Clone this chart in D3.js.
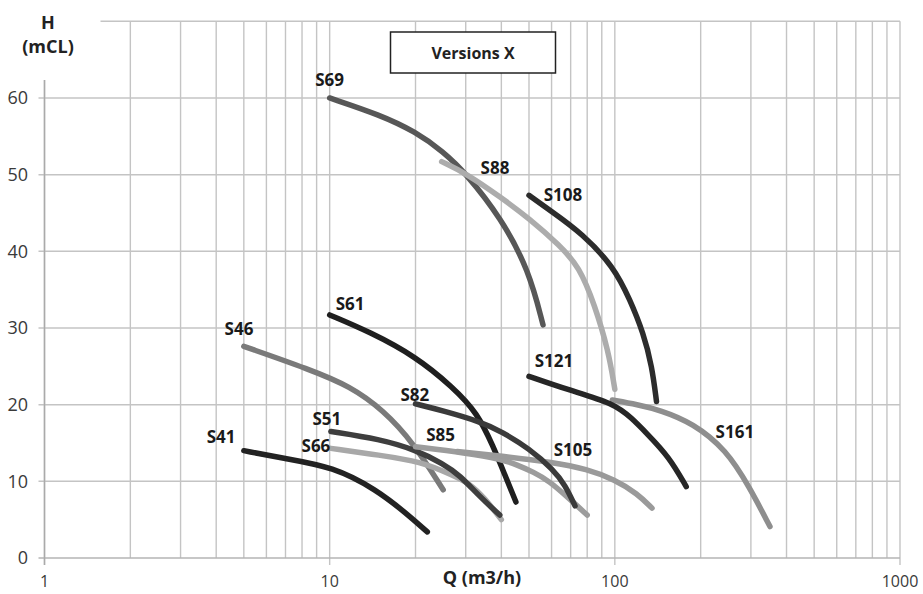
<!DOCTYPE html>
<html>
<head>
<meta charset="utf-8">
<script src="https://cdn.jsdelivr.net/npm/d3@7"></script>
<style>
  html, body { margin: 0; padding: 0; background: #fff; }
  svg { display: block; }
</style>
</head>
<body>
<svg id="chart" width="923" height="594"></svg>
<script>
// ---------------- DATA ----------------
const xTickValues = [1, 10, 100, 1000];
const xTickLabels = ["1", "10", "100", "1000"];
const yTickValues = [0, 10, 20, 30, 40, 50, 60];
const yTickLabels = ["0", "10", "20", "30", "40", "50", "60"];
const chartTitle = "Versions X";
const xTitle = "Q (m3/h)";
const yTitle = ["H", "(mCL)"];

const pumpNames = ["S41", "S46", "S51", "S61", "S66", "S69", "S82", "S85", "S88", "S105", "S108", "S121", "S161"];

const S41_Q = [5, 6.9, 10.3, 14.6, 18.6, 22];
const S41_H = [14, 13, 11.9, 8.9, 5.8, 3.4];
const S46_Q = [5, 8.5, 11.8, 15.4, 19.7, 25];
const S46_H = [27.6, 24.6, 22.4, 19.3, 15, 8.9];
const S51_Q = [10.1, 15, 20, 25, 28.6, 33.6, 39.5];
const S51_H = [16.5, 15.5, 14.1, 12.3, 10.8, 8.0, 5.6];
const S61_Q = [10, 13.8, 20, 27, 33, 37.5, 41, 45];
const S61_H = [31.7, 29.5, 26.3, 22.3, 18.9, 14.5, 11, 7.3];
const S66_Q = [10.1, 15, 20.8, 27, 31, 35, 40];
const S66_H = [14.3, 13.4, 12.6, 10.8, 9.7, 7.8, 5.0];
const S69_Q = [10, 15, 20, 25, 30, 40, 50, 56];
const S69_H = [60, 57.8, 55.6, 53, 50.2, 44.3, 37.5, 30.4];
const S82_Q = [20, 25, 33.6, 40, 50, 61, 67, 72.5];
const S82_H = [20.1, 19.2, 17.8, 16.5, 14.3, 11.5, 9.5, 6.8];
const S85_Q = [20, 30, 40, 45, 52, 59, 68, 80];
const S85_H = [14.5, 13.7, 12.9, 12.2, 11.2, 10, 8, 5.6];
const S88_Q = [24.7, 30, 40, 50, 64, 75, 85, 95, 100];
const S88_H = [51.7, 50.2, 47, 44.3, 40.8, 38, 33, 27, 22];
const S105_Q = [28, 40, 60, 80, 100, 120, 135];
const S105_H = [13.9, 13.3, 12.5, 11.6, 10.2, 8.4, 6.5];
const S108_Q = [50, 60, 77, 99, 113, 126, 135, 140];
const S108_H = [47.3, 45.2, 42.3, 38, 33.7, 29.3, 25, 20.4];
const S121_Q = [50, 69, 99, 115, 129, 155, 178];
const S121_H = [23.7, 21.9, 20.2, 18.2, 16.3, 13.2, 9.3];
const S161_Q = [98, 120, 144, 188, 246, 296, 350];
const S161_H = [20.6, 20, 19.3, 17.6, 14.1, 9.3, 4.1];

// label anchors, in data units (Q, H)
const labelQ = [4.16, 4.81, 9.78, 11.8, 8.95, 10.0, 19.9, 24.5, 38.0, 71.3, 65.8, 61.2, 263.6];
const labelH = [15.8, 29.9, 18.1, 33.1, 14.6, 62.3, 21.3, 16.0, 50.9, 14.1, 47.3, 25.7, 16.4];

// ---------------- STYLE ----------------
const pumpColors = {
  S41: "#222222", S46: "#7a7a7a", S51: "#3e3e3e", S61: "#1f1f1f", S66: "#a8a8a8",
  S69: "#575757", S82: "#3a3a3a", S85: "#9c9c9c", S88: "#acacac", S105: "#9a9a9a",
  S108: "#2c2c2c", S121: "#262626", S161: "#8e8e8e"
};
const drawOrder = ["S69", "S88", "S108", "S46", "S61", "S41", "S66", "S51", "S85", "S105", "S82", "S161", "S121"];

const series = {
  S41: [S41_Q, S41_H], S46: [S46_Q, S46_H], S51: [S51_Q, S51_H], S61: [S61_Q, S61_H],
  S66: [S66_Q, S66_H], S69: [S69_Q, S69_H], S82: [S82_Q, S82_H], S85: [S85_Q, S85_H],
  S88: [S88_Q, S88_H], S105: [S105_Q, S105_H], S108: [S108_Q, S108_H],
  S121: [S121_Q, S121_H], S161: [S161_Q, S161_H]
};

const svg = d3.select("#chart");
const x = d3.scaleLog().domain([1, 1000]).range([44.5, 900]);
const y = d3.scaleLinear().domain([0, 70]).range([558, 21.3]);

const gridColor = "#c4c4c4";
const font = "'Open Sans', 'Liberation Sans', sans-serif";

// vertical grid lines (log minor + major)
const vLines = [];
for (let d = 1; d < 1000; d *= 10) {
  for (let k = 1; k < 10; k++) vLines.push(d * k);
}
vLines.push(1000);
const isDecade = v => Math.abs(Math.log10(v) - Math.round(Math.log10(v))) < 1e-9;
svg.append("g").selectAll("line").data(vLines).join("line")
  .attr("x1", d => x(d)).attr("x2", d => x(d))
  .attr("y1", y(70)).attr("y2", d => isDecade(d) ? y(0) + 7 : y(0))
  .attr("stroke", gridColor).attr("stroke-width", 1.4);

// horizontal grid lines
svg.append("g").selectAll("line").data(d3.range(0, 80, 10)).join("line")
  .attr("x1", x(1) - 6).attr("x2", x(1000))
  .attr("y1", d => y(d)).attr("y2", d => y(d))
  .attr("stroke", d => d === 0 ? "#b5b5b5" : gridColor).attr("stroke-width", 1.5);

// blank top-left area (as in the reference)
svg.append("rect").attr("x", 0).attr("y", 0).attr("width", 100.5).attr("height", 80).attr("fill", "#fff");

// y axis line
svg.append("line").attr("x1", x(1)).attr("x2", x(1)).attr("y1", 80).attr("y2", y(0) + 7)
  .attr("stroke", "#aaaaaa").attr("stroke-width", 1.5);

// tick labels
svg.append("g").selectAll("text").data(yTickValues).join("text")
  .attr("x", 28).attr("y", d => y(d)).attr("dy", "0.36em")
  .attr("text-anchor", "end").attr("font-family", font).attr("font-size", 18)
  .attr("fill", "#3a3a3a").text((d, i) => yTickLabels[i]);
svg.append("g").selectAll("text").data(xTickValues).join("text")
  .attr("x", d => x(d)).attr("y", 587)
  .attr("text-anchor", "middle").attr("font-family", font).attr("font-size", 16)
  .attr("fill", "#3a3a3a").text((d, i) => xTickLabels[i]);

// axis titles
svg.append("text").attr("x", 482).attr("y", 584).attr("text-anchor", "middle")
  .attr("font-family", font).attr("font-weight", "bold").attr("font-size", 18)
  .attr("fill", "#222").text(xTitle);
svg.append("text").attr("x", 48).attr("y", 29).attr("text-anchor", "middle")
  .attr("font-family", font).attr("font-weight", "bold").attr("font-size", 18)
  .attr("fill", "#222").text(yTitle[0]);
svg.append("text").attr("x", 48).attr("y", 53).attr("text-anchor", "middle")
  .attr("font-family", font).attr("font-weight", "bold").attr("font-size", 18)
  .attr("fill", "#222").text(yTitle[1]);

// title box
svg.append("rect").attr("x", 390.5).attr("y", 32).attr("width", 165).attr("height", 41)
  .attr("fill", "#fff").attr("stroke", "#222").attr("stroke-width", 1.5);
svg.append("text").attr("x", 473).attr("y", 53).attr("dy", "0.35em").attr("text-anchor", "middle")
  .attr("font-family", font).attr("font-weight", "bold").attr("font-size", 16)
  .attr("fill", "#222").text(chartTitle);

// curves
const line = d3.line().x(d => x(d[0])).y(d => y(d[1])).curve(d3.curveBasis);
const curvesG = svg.append("g");
drawOrder.forEach(name => {
  const [qs, hs] = series[name];
  const pts = qs.map((q, i) => [q, hs[i]]);
  curvesG.append("path").datum(pts).attr("d", line)
    .attr("fill", "none").attr("stroke", pumpColors[name])
    .attr("stroke-width", 5.5).attr("stroke-linecap", "round").attr("stroke-linejoin", "round");
});

// curve labels
svg.append("g").selectAll("text").data(pumpNames).join("text")
  .attr("x", (d, i) => x(labelQ[i])).attr("y", (d, i) => y(labelH[i])).attr("dy", "0.35em")
  .attr("text-anchor", "middle").attr("font-family", font).attr("font-weight", "bold")
  .attr("font-size", 17).attr("fill", "#1a1a1a").text(d => d);
</script>
</body>
</html>
